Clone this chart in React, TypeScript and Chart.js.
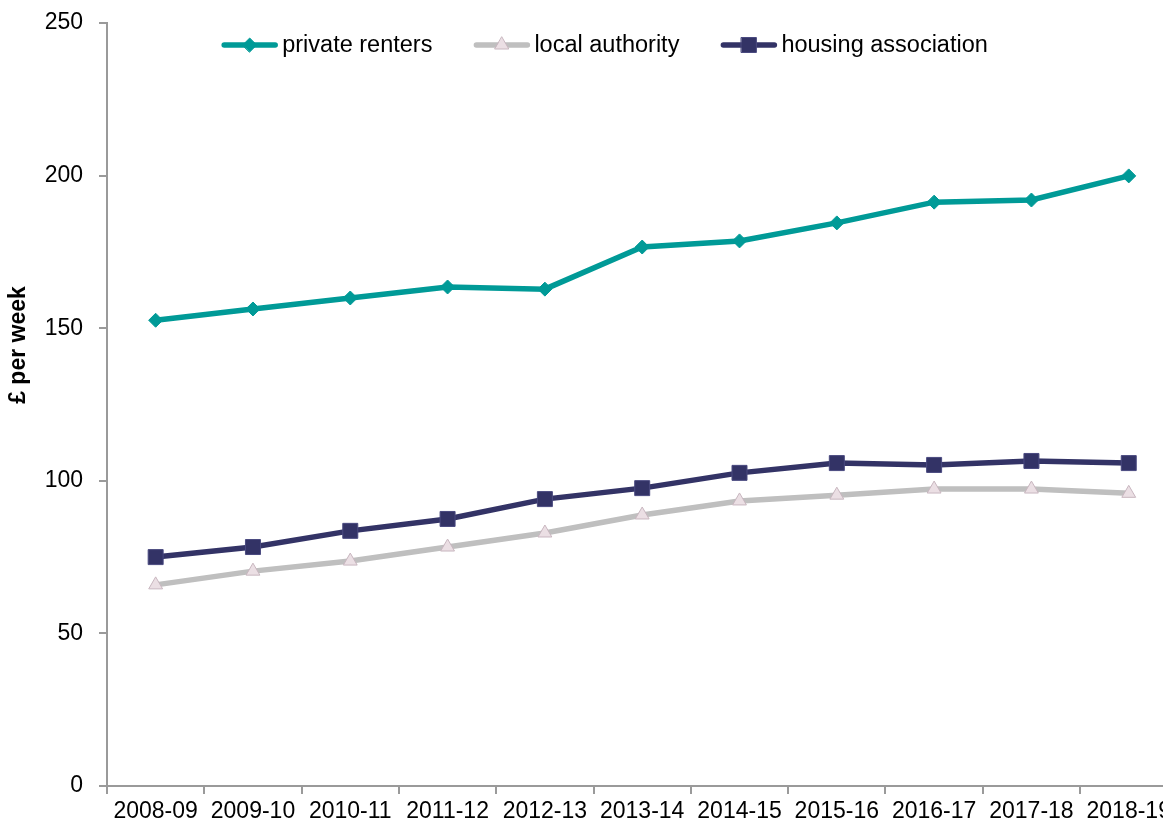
import React, { useEffect, useRef } from "react";
import { Chart, registerables } from "chart.js";

Chart.register(...registerables);

const categories = [
  "2008-09", "2009-10", "2010-11", "2011-12", "2012-13", "2013-14",
  "2014-15", "2015-16", "2016-17", "2017-18", "2018-19",
];
const privateRenters = [152.6, 156.3, 159.9, 163.5, 162.8, 176.6, 178.6, 184.5, 191.3, 192.0, 199.9];
const localAuthority = [65.9, 70.4, 73.7, 78.3, 82.9, 88.8, 93.4, 95.3, 97.3, 97.3, 95.9];
const housingAssociation = [75.0, 78.3, 83.6, 87.5, 94.0, 97.6, 102.6, 105.8, 105.2, 106.5, 105.8];
const yTicks = [0, 50, 100, 150, 200, 250];
const yTitle = "£ per week";

const FONT = '"Liberation Sans", Arial, Helvetica, sans-serif';
const TEAL = "#009A97";
const GREY = "#BFBFBF";
const NAVY = "#333366";
const AXIS = "#9A9A9A";

function drawMarker(ctx: CanvasRenderingContext2D, style: string, x: number, y: number, fill: string, stroke: string) {
  ctx.save();
  ctx.beginPath();
  if (style === "rectRot") {
    const r = 7;
    ctx.moveTo(x - r, y);
    ctx.lineTo(x, y - r);
    ctx.lineTo(x + r, y);
    ctx.lineTo(x, y + r);
    ctx.closePath();
  } else if (style === "triangle") {
    const r = 8;
    ctx.moveTo(x, y - r);
    ctx.lineTo(x + r * Math.sin((2 * Math.PI) / 3), y - r * Math.cos((2 * Math.PI) / 3));
    ctx.lineTo(x + r * Math.sin((4 * Math.PI) / 3), y - r * Math.cos((4 * Math.PI) / 3));
    ctx.closePath();
  } else {
    const s = 7.5;
    ctx.rect(x - s, y - s, 2 * s, 2 * s);
  }
  ctx.fillStyle = fill;
  ctx.fill();
  ctx.strokeStyle = stroke;
  ctx.lineWidth = 1;
  ctx.stroke();
  ctx.restore();
}

const legendPlugin = {
  id: "customLegend",
  afterDraw(chart: any) {
    const ctx: CanvasRenderingContext2D = chart.ctx;
    ctx.save();
    ctx.font = `23.5px ${FONT}`;
    const lineW = 55;
    const gapText = 5;
    const gapItem = 42;
    const items = chart.data.datasets.map((ds: any) => ({ ds, tw: ctx.measureText(ds.label).width }));
    const total = items.reduce((s: number, it: any) => s + lineW + gapText + it.tw, 0) + gapItem * (items.length - 1);
    let x = 605 - total / 2;
    const y = 45;
    for (const it of items) {
      const ds = it.ds;
      ctx.beginPath();
      ctx.strokeStyle = ds.borderColor;
      ctx.lineWidth = 5.5;
      ctx.lineCap = "round";
      ctx.moveTo(x + 2, y);
      ctx.lineTo(x + lineW - 2, y);
      ctx.stroke();
      drawMarker(ctx, ds.pointStyle, x + lineW / 2, y, ds.pointBackgroundColor, ds.pointBorderColor);
      ctx.fillStyle = "#000";
      ctx.textAlign = "left";
      ctx.textBaseline = "middle";
      ctx.fillText(ds.label, x + lineW + gapText, y + 1);
      x += lineW + gapText + it.tw + gapItem;
    }
    // y-axis title
    ctx.font = `bold 23px ${FONT}`;
    ctx.translate(19, 345);
    ctx.rotate(-Math.PI / 2);
    ctx.textAlign = "center";
    ctx.textBaseline = "middle";
    ctx.fillText(yTitle, 0, 0);
    ctx.restore();
  },
};

export default function App() {
  const canvasRef = useRef<HTMLCanvasElement | null>(null);

  useEffect(() => {
    if (!canvasRef.current) return;
    const chart = new Chart(canvasRef.current, {
      type: "line",
      data: {
        labels: categories,
        datasets: [
          {
            label: "private renters",
            data: privateRenters,
            borderColor: TEAL,
            backgroundColor: TEAL,
            borderWidth: 5.5,
            pointStyle: "rectRot",
            pointRadius: 7,
            pointBackgroundColor: TEAL,
            pointBorderColor: TEAL,
            pointBorderWidth: 1,
            tension: 0,
          },
          {
            label: "local authority",
            data: localAuthority,
            borderColor: GREY,
            backgroundColor: GREY,
            borderWidth: 5.5,
            pointStyle: "triangle",
            pointRadius: 8,
            pointBackgroundColor: "#EBDFE4",
            pointBorderColor: "#C8B6BF",
            pointBorderWidth: 1,
            tension: 0,
          },
          {
            label: "housing association",
            data: housingAssociation,
            borderColor: NAVY,
            backgroundColor: NAVY,
            borderWidth: 5.5,
            pointStyle: "rect",
            pointRadius: 10.6,
            pointBackgroundColor: NAVY,
            pointBorderColor: "#4A4A80",
            pointBorderWidth: 1,
            tension: 0,
          },
        ],
      },
      options: {
        animation: false,
        responsive: false,
        maintainAspectRatio: false,
        layout: { padding: { top: 23, right: 0, bottom: 0, left: 0 } },
        plugins: {
          legend: { display: false },
          tooltip: { enabled: false },
        },
        scales: {
          x: {
            type: "category",
            offset: true,
            grid: {
              display: true,
              offset: true,
              drawOnChartArea: false,
              drawTicks: true,
              tickLength: 8,
              color: AXIS,
              lineWidth: 2,
            },
            border: { display: true, color: AXIS, width: 2 },
            ticks: {
              color: "#000",
              font: { family: FONT, size: 23 },
              padding: 4,
              maxRotation: 0,
              autoSkip: false,
            },
            afterFit: (scale: any) => {
              scale.height = 39;
              scale.paddingLeft = 0;
              scale.paddingRight = 0;
            },
          },
          y: {
            min: 0,
            max: 250,
            afterBuildTicks: (scale: any) => {
              scale.ticks = yTicks.map((v) => ({ value: v }));
            },
            grid: {
              display: true,
              drawOnChartArea: false,
              drawTicks: true,
              tickLength: 8,
              color: AXIS,
              lineWidth: 2,
            },
            border: { display: true, color: AXIS, width: 2 },
            ticks: {
              color: "#000",
              font: { family: FONT, size: 23 },
              padding: 16,
            },
            title: { display: false },
            afterFit: (scale: any) => {
              scale.width = 107;
              scale.paddingTop = 0;
              scale.paddingBottom = 0;
            },
          },
        },
      },
      plugins: [legendPlugin],
    });
    return () => chart.destroy();
  }, []);

  return (
    <div style={{ position: "fixed", left: 0, top: 0, width: "100vw", height: "100vh", overflow: "hidden", background: "#fff" }}>
      <div style={{ width: 1200, height: 825 }}>
        <canvas ref={canvasRef} width={1189} height={825} style={{ display: "block", width: 1189, height: 825 }} />
      </div>
    </div>
  );
}
